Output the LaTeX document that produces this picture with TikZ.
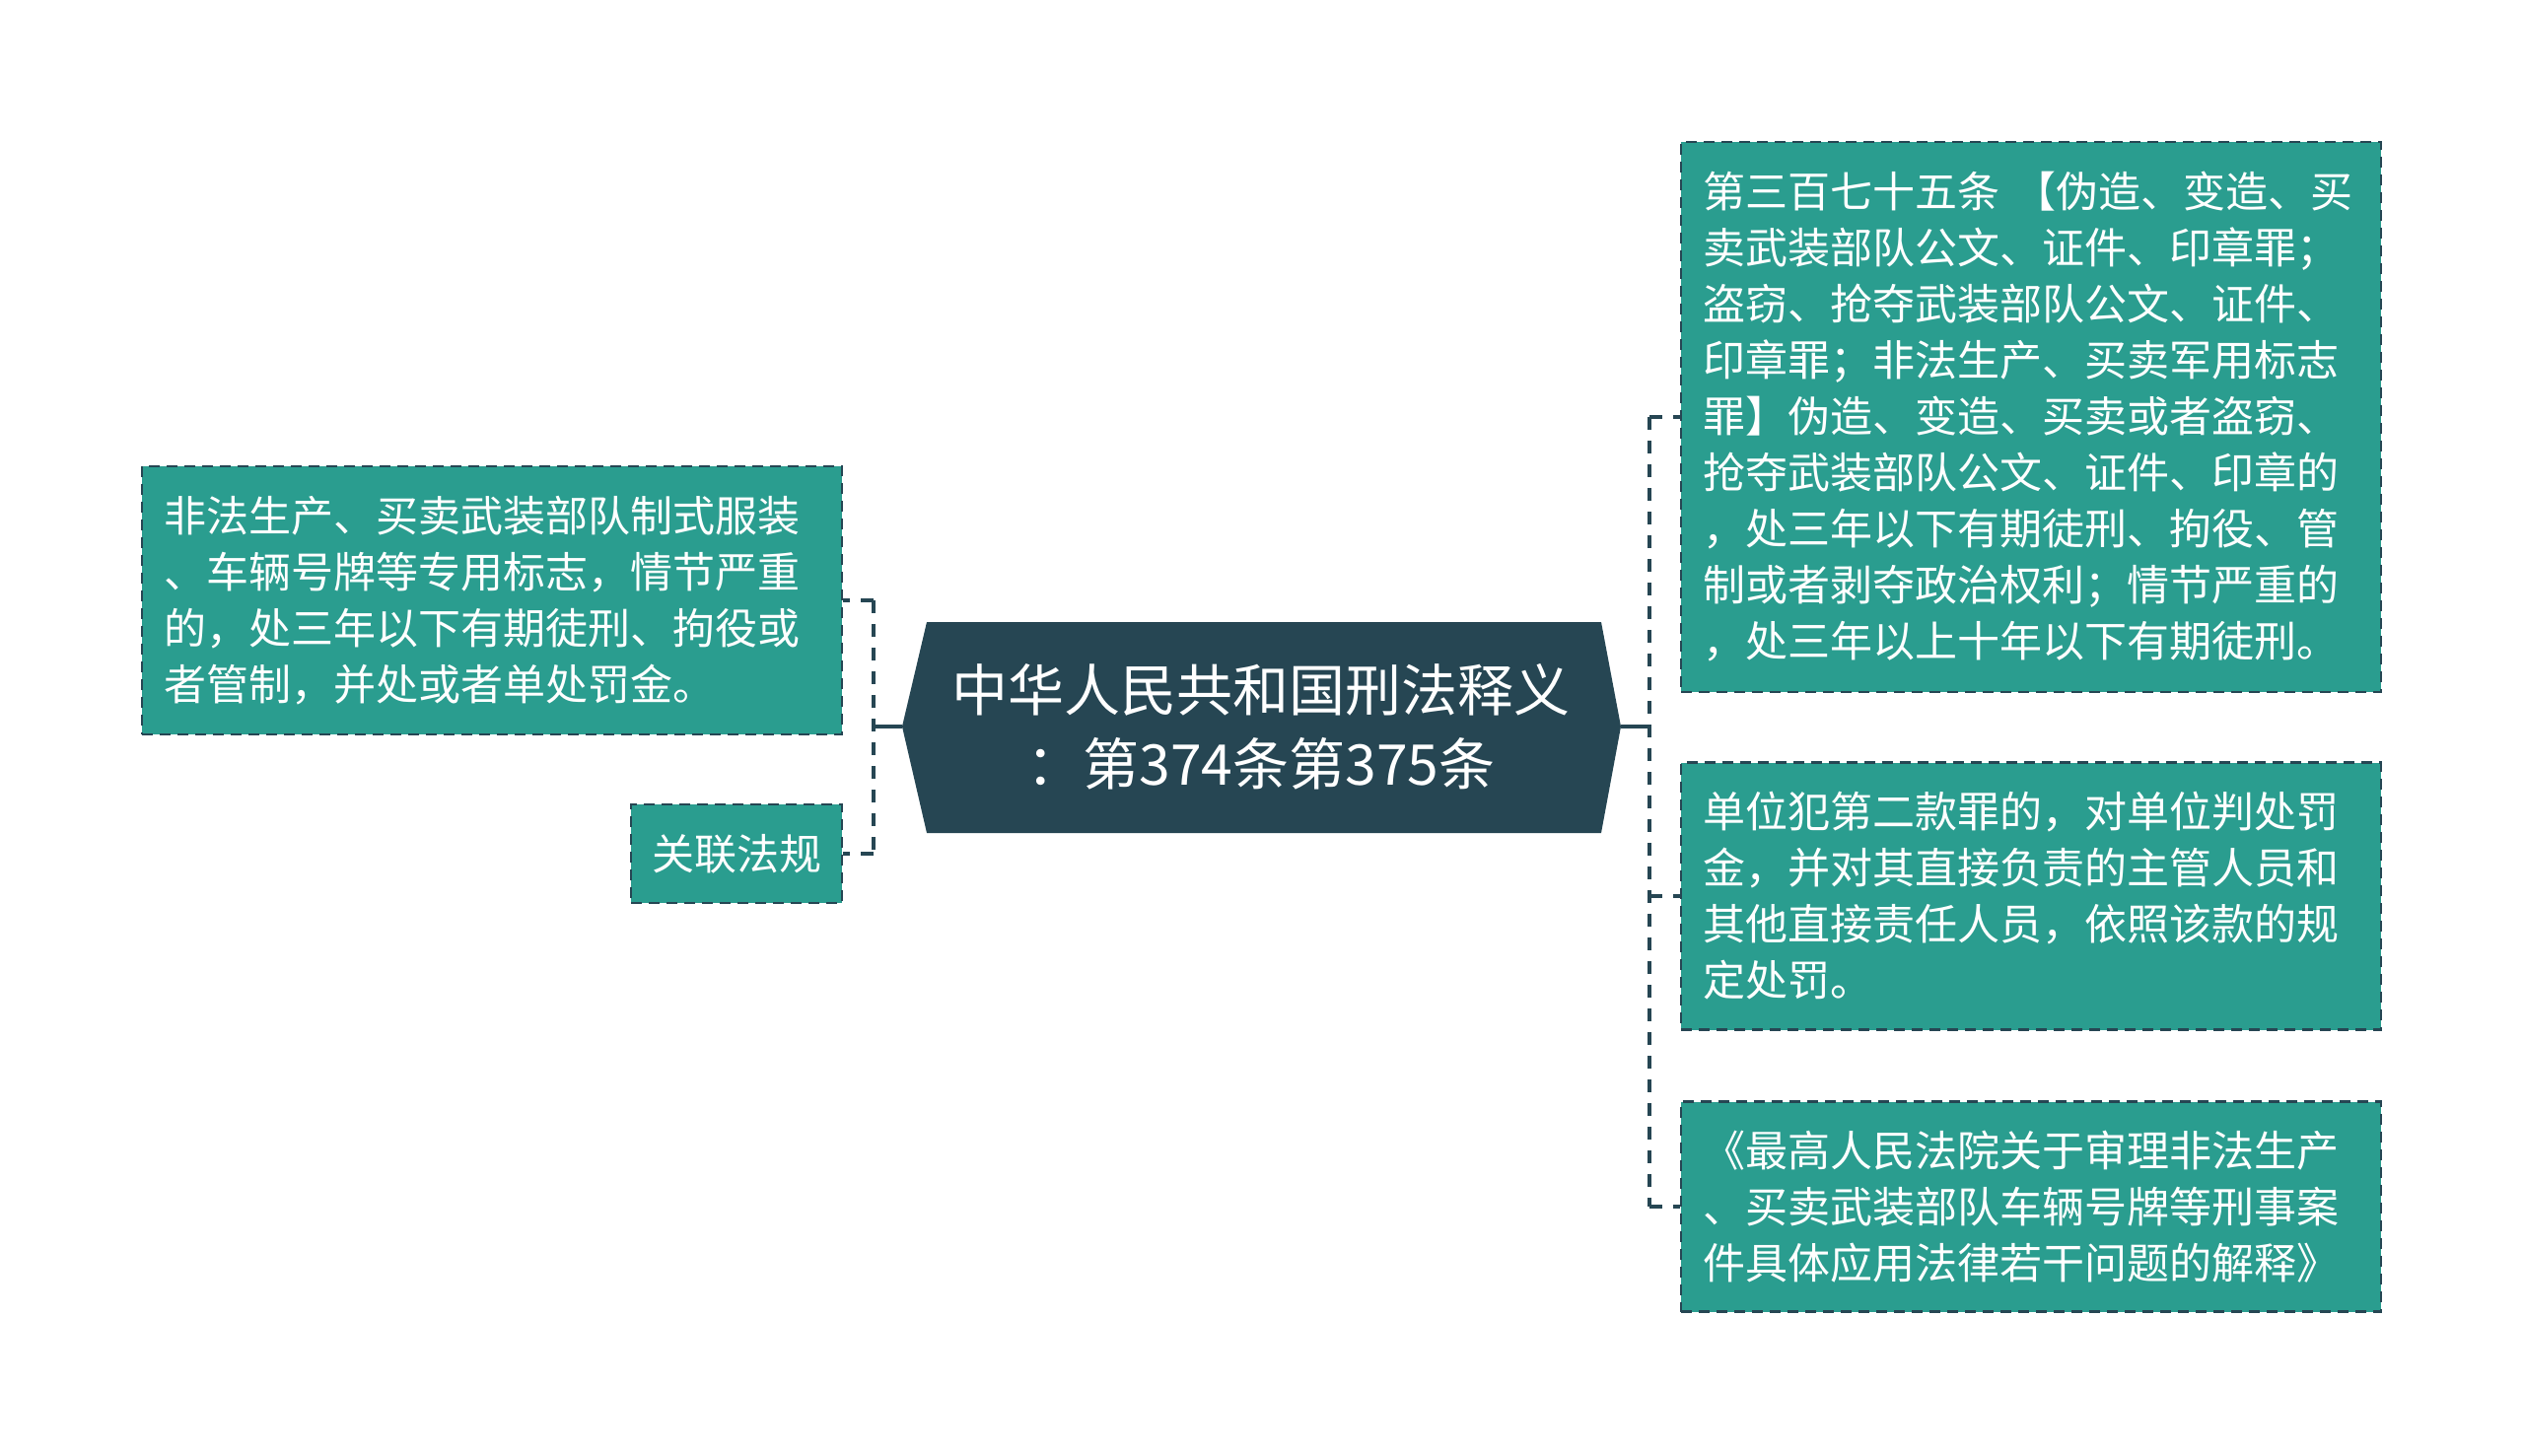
\documentclass[tikz,border=0pt]{standalone}
\usepackage{fontspec}
\setmainfont{Noto Sans CJK SC}
\definecolor{tealbox}{HTML}{2A9D8F}
\definecolor{darkslate}{HTML}{264653}
\tikzset{
  leaf/.style={draw=darkslate, fill=tealbox, line width=2.5pt, dash pattern=on 11pt off 7pt,
    text=white, font=\fontsize{43}{57}\selectfont, align=left, inner xsep=22pt, inner ysep=0pt},
  conn/.style={draw=darkslate, line width=3.5pt},
  dconn/.style={draw=darkslate, line width=4.5pt, dash pattern=on 13pt off 11pt},
}
\begin{document}
\begin{tikzpicture}[x=1pt,y=-1pt]
\useasboundingbox (0,0) rectangle (2560,1476);
% central hexagon
\coordinate (hl) at (915,737);
\coordinate (htl) at (940,631);
\coordinate (htr) at (1624,631);
\coordinate (hr) at (1644,737);
\coordinate (hbr) at (1624,845);
\coordinate (hbl) at (940,845);
\fill[darkslate] (hl) -- (htl) -- (htr) -- (hr) -- (hbr) -- (hbl) -- cycle;
\node[text=white, font=\fontsize{57}{75}\selectfont, align=center] (C) at (1279,737)
  {中华人民共和国刑法释义\\：第374条第375条};
% left leaves
\node[leaf, text width=666pt, minimum height=272pt] (L1) at (499,609)
  {非法生产、买卖武装部队制式服装\\、车辆号牌等专用标志，情节严重\\的，处三年以下有期徒刑、拘役或\\者管制，并处或者单处罚金。};
\node[leaf, align=center, inner xsep=0pt, minimum width=214pt, minimum height=100pt] (L2) at (747,866)
  {关联法规};
% right leaves
\node[leaf, text width=666pt, minimum height=558pt] (R1) at (2060,423)
  {第三百七十五条 【伪造、变造、买\\卖武装部队公文、证件、印章罪；\\盗窃、抢夺武装部队公文、证件、\\印章罪；非法生产、买卖军用标志\\罪】伪造、变造、买卖或者盗窃、\\抢夺武装部队公文、证件、印章的\\，处三年以下有期徒刑、拘役、管\\制或者剥夺政治权利；情节严重的\\，处三年以上十年以下有期徒刑。};
\node[leaf, text width=666pt, minimum height=271pt] (R2) at (2060,909)
  {单位犯第二款罪的，对单位判处罚\\金，并对其直接负责的主管人员和\\其他直接责任人员，依照该款的规\\定处罚。};
\node[leaf, text width=666pt, minimum height=213pt] (R3) at (2060,1224)
  {《最高人民法院关于审理非法生产\\、买卖武装部队车辆号牌等刑事案\\件具体应用法律若干问题的解释》};
% connectors
\coordinate (TL) at (886,737);
\coordinate (TR) at (1673,737);
\draw[conn] (hl) -- (TL);
\draw[conn] (hr) -- (TR);
\draw[dconn] (TL |- L1.east) -- (TL |- L2.east);
\draw[dconn] (TL |- L1.east) -- (L1.east);
\draw[dconn] (TL |- L2.east) -- (L2.east);
\draw[dconn] (TR |- R1.west) -- (TR |- R3.west);
\draw[dconn] (TR |- R1.west) -- (R1.west);
\draw[dconn] (TR |- R2.west) -- (R2.west);
\draw[dconn] (TR |- R3.west) -- (R3.west);
\end{tikzpicture}
\end{document}
